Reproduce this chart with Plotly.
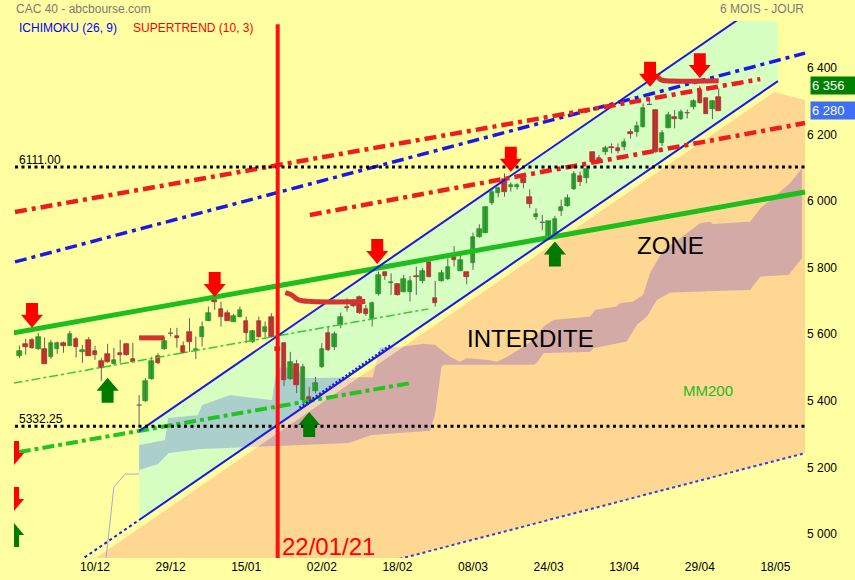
import plotly.graph_objects as go
import numpy as np

# ---------------- data ----------------
day_index = list(range(-12, 100))
opens = [5544, 5580, 5592, 5565, 5565, 5541, 5565, 5583, 5575, 5595, 5555, 5592,
         5559, 5529, 5550, 5520, 5554, 5580, 5535, 5396, 5408, 5474, 5544, 5564,
         5612, 5604, 5574, 5615, 5560, 5600, 5650, 5712, 5685, 5674, 5647, 5662,
         5649, 5585, 5649, 5615, 5662, 5571, 5582, 5474, 5519, 5411, 5421, 5439,
         5510, 5612, 5570, 5637, 5692, 5710, 5722, 5684, 5654, 5730, 5797, 5762,
         5760, 5737, 5737, 5784, 5770, 5825, 5719, 5770, 5774, 5840, 5800, 5795,
         5822, 5902, 5914, 6004, 6032, 6074, 6050, 6050, 6077, 6020, 5960, 5945,
         5902, 5902, 5979, 5994, 6044, 6085, 6079, 6157, 6139, 6155, 6172, 6167,
         6172, 6217, 6217, 6232, 6299, 6282, 6182, 6229, 6260, 6255, 6274, 6292,
         6342, 6317, 6285, 6320]
highs = [5575, 5595, 5598, 5613, 5599, 5592, 5587, 5587, 5619, 5601, 5577, 5601,
         5574, 5538, 5580, 5568, 5592, 5582, 5583, 5426, 5477, 5541, 5552, 5601,
         5628, 5628, 5587, 5657, 5602, 5647, 5692, 5712, 5707, 5682, 5670, 5692,
         5662, 5622, 5662, 5647, 5672, 5590, 5585, 5556, 5532, 5520, 5451, 5481,
         5582, 5632, 5617, 5674, 5717, 5715, 5725, 5697, 5707, 5797, 5797, 5792,
         5762, 5787, 5784, 5812, 5807, 5827, 5769, 5802, 5837, 5874, 5847, 5797,
         5914, 5939, 5994, 6047, 6052, 6092, 6065, 6062, 6082, 6044, 5987, 5967,
         5949, 5964, 6013, 6029, 6099, 6097, 6114, 6158, 6147, 6175, 6182, 6182,
         6197, 6224, 6247, 6302, 6312, 6284, 6222, 6277, 6282, 6284, 6284, 6314,
         6354, 6317, 6312, 6347]
lows = [5537, 5547, 5565, 5562, 5520, 5535, 5550, 5553, 5575, 5539, 5523, 5544,
        5532, 5469, 5523, 5517, 5523, 5545, 5523, 5332, 5405, 5472, 5519, 5562,
        5602, 5568, 5551, 5556, 5534, 5572, 5648, 5682, 5632, 5649, 5645, 5660,
        5582, 5583, 5599, 5597, 5599, 5545, 5453, 5472, 5432, 5402, 5407, 5431,
        5508, 5558, 5562, 5627, 5677, 5690, 5670, 5664, 5632, 5725, 5772, 5727,
        5725, 5735, 5707, 5727, 5762, 5780, 5692, 5767, 5772, 5812, 5798, 5759,
        5802, 5899, 5912, 5997, 6020, 6022, 6037, 6043, 6047, 5987, 5952, 5922,
        5892, 5900, 5964, 5992, 6042, 6054, 6062, 6126, 6122, 6147, 6152, 6152,
        6162, 6197, 6202, 6230, 6299, 6154, 6174, 6227, 6227, 6252, 6257, 6284,
        6302, 6270, 6255, 6280]
closes = [5559, 5572, 5568, 5601, 5520, 5583, 5583, 5575, 5610, 5572, 5562, 5544,
          5547, 5508, 5526, 5532, 5547, 5547, 5526, 5396, 5469, 5529, 5522, 5589,
          5612, 5599, 5552, 5587, 5565, 5632, 5672, 5707, 5662, 5650, 5664, 5682,
          5612, 5619, 5600, 5632, 5600, 5560, 5472, 5526, 5457, 5510, 5411, 5462,
          5565, 5562, 5610, 5662, 5687, 5694, 5672, 5669, 5704, 5787, 5785, 5766,
          5727, 5774, 5770, 5780, 5800, 5782, 5704, 5792, 5812, 5832, 5832, 5782,
          5902, 5924, 5990, 6037, 6047, 6035, 6057, 6057, 6062, 5999, 5970, 5945,
          5949, 5955, 5992, 6019, 6090, 6067, 6104, 6127, 6132, 6169, 6167, 6160,
          6187, 6209, 6234, 6287, 6299, 6157, 6214, 6267, 6255, 6277, 6274, 6309,
          6302, 6270, 6309, 6280]

tick_index = [0, 12, 24, 36, 48, 60, 72, 84, 96, 108]
tick_labels = ["10/12", "29/12", "15/01", "02/02", "18/02", "08/03", "24/03",
               "13/04", "29/04", "18/05"]
price_ticks = [5000, 5200, 5400, 5600, 5800, 6000, 6200, 6400]
price_tick_labels = ["5 000", "5 200", "5 400", "5 600", "5 800", "6 000",
                     "6 200", "6 400"]

# trend / channel lines, each as ([index, index], [value, value])
mm_trend = ([-12.9, 112.7], [5613, 6036])
green_thin = ([-12.9, 52.9], [5462, 5685])
green_dashdot = ([-12.1, 50.0], [5255, 5462])
blue_dashdot = ([-12.7, 112.7], [5826, 6453])
red_dashdot_up = ([-12.7, 105.6], [5976, 6375])
red_dashdot_mid = ([34.1, 112.7], [5967, 6243])
chan_lower = ([7.0, 108.4], [5051, 6369])
chan_upper = ([7.0, 108.4], [5318, 6636])
chan_lower_ext = ([-4.0, 7.0], [4908, 5051])
wide_lower = ([40.0, 112.7], [4893, 5252])
zone_edge = ([-1.0, 107.8], [4922, 6336])
zone_right = ([112.7], [6312])
levels = [6111.00, 5332.25]
level_labels = ["6111.00", "5332.25"]
event_day = 29
event_label = "22/01/21"

# ichimoku cloud boundaries
cloud_top_idx = [7.0, 11.1, 11.6, 16.3, 17.0, 21.4, 28.1, 28.6, 29.0, 32.2, 32.9,
                 44.1, 45.2, 48.9, 52.1, 54.0, 55.3, 56.4, 57.9, 59.0,
                 62.2, 63.8, 65.4, 68.5, 70.1, 71.2, 72.8,
                 78.6, 79.4, 82.8, 83.3, 85.4, 87.0, 88.1,
                 90.2, 92.9, 96.0, 97.6, 98.1,
                 104.0, 105.6, 106.6, 110.3, 112.2]
cloud_top = [5276, 5291, 5357, 5366, 5396, 5426, 5411, 5477, 5510, 5507, 5477,
             5480, 5568, 5572, 5580, 5577, 5557, 5541, 5526, 5537,
             5532, 5526, 5541, 5577, 5602, 5632, 5652,
             5662, 5682, 5692, 5702, 5707, 5727, 5792,
             5862, 5897, 5942, 5947, 5940,
             5947, 5987, 6002, 6062, 6107]
cloud_bot_idx = [7.0, 10.0, 11.7, 16.7, 40.3, 43.8, 53.2, 54.0, 55.0, 55.3, 69.6,
                 70.1, 71.2, 72.8, 78.6, 79.1, 84.4, 86.0, 87.6, 89.2, 91.3,
                 104.0, 105.6, 110.1, 112.2]
cloud_bot = [5201, 5219, 5252, 5264, 5282, 5306, 5319, 5371, 5511, 5517, 5517,
             5522, 5552, 5553, 5556, 5567, 5587, 5637, 5662, 5712, 5734,
             5742, 5782, 5787, 5837]
span_idx = [1.75, 3.0, 4.8, 7.0]
span_val = [4937, 5150, 5189, 5189]
# dark span edge running along the lower channel line
span_edge_idx = [32.5, 47.0]

# supertrend segments
st1 = ([7.0, 11.0], [5598, 5598])
st2 = ([30.2, 31.2, 32.3, 34.4, 42.9], [5734, 5727, 5712, 5707, 5707])
st3 = ([89.3, 89.8, 90.6, 99.0], [6382, 6373, 6370, 6370])

# signal arrows (tip position)
sell_idx = [-10.0, 19.0, 44.8, 66.0, 88.1, 96.0, -13.0, -13.0]
sell_val = [5628, 5721, 5820, 6097, 6352, 6378, 5213, 5075]
buy_idx = [2.0, 34.0, 73.0, -13.0]
buy_val = [5478, 5375, 5887, 5045]

last_high = 6356
last_close = 6280

# ---------------- style ----------------
BG = "#FFFFA2"
ORANGE = "#FED892"
CHAN = "#D8FFC2"
CLOUD_ON_ORANGE = "#D4AAA6"
CLOUD_ON_CHAN = "#ABCFCB"
CLOUD_ON_BG = "#EFD7B8"
FONT = "Liberation Sans, Arial, sans-serif"

XR = [-12.857, 112.857]
YR = [4936.9, 6549.5]
ML, MR, MT, MB = 14, 49, 21, 22
PW, PH = 855 - ML - MR, 580 - MT - MB


def px2paper(px, py):
    return (px - ML) / PW, (580 - MB - py) / PH


def line_at(line, x):
    (x0, x1), (y0, y1) = line
    return y0 + (y1 - y0) * (np.asarray(x, dtype=float) - x0) / (x1 - x0)


def poly_path(xs, ys):
    return "M " + " L ".join(f"{a:.3f},{b:.2f}" for a, b in zip(xs, ys)) + " Z"


fig = go.Figure()
shapes = []

# forbidden zone (orange)
zx = [zone_edge[0][0], zone_edge[0][1], zone_right[0][0], wide_lower[0][1],
      wide_lower[0][0], zone_edge[0][0]]
zy = [zone_edge[1][0], zone_edge[1][1], zone_right[1][0], wide_lower[1][1],
      wide_lower[1][0], 4880]
shapes.append(dict(type="path", path=poly_path(zx, zy), fillcolor=ORANGE,
                   line=dict(width=0), layer="below", xref="x", yref="y"))

# channel fill
cx = [chan_lower[0][0], chan_upper[0][0], chan_upper[0][1], chan_lower[0][1]]
cy = [chan_lower[1][0], chan_upper[1][0], chan_upper[1][1], chan_lower[1][1]]
shapes.append(dict(type="path", path=poly_path(cx, cy), fillcolor=CHAN,
                   line=dict(width=0), layer="below", xref="x", yref="y"))

# cloud split by background region
grid = np.round(np.arange(7.0, 112.25, 0.05), 3)
top = np.interp(grid, cloud_top_idx, cloud_top)
bot = np.interp(grid, cloud_bot_idx, cloud_bot)
lo_line = line_at(chan_lower, grid)
zo_line = line_at(zone_edge, grid)
parts = [
    (np.maximum(top, lo_line), np.maximum(bot, lo_line), CLOUD_ON_CHAN),
    (np.clip(top, zo_line, lo_line), np.clip(bot, zo_line, lo_line), CLOUD_ON_BG),
    (np.minimum(top, zo_line), np.minimum(bot, zo_line), CLOUD_ON_ORANGE),
]
for hi, lo, col in parts:
    xs = list(grid) + list(grid[::-1])
    ys = list(hi) + list(lo[::-1])
    shapes.append(dict(type="path", path=poly_path(xs, ys), fillcolor=col,
                       line=dict(width=0), layer="below", xref="x", yref="y"))


def add_line(line, color, width, dash="solid", shape="linear"):
    fig.add_trace(go.Scatter(x=line[0], y=line[1], mode="lines",
                             line=dict(color=color, width=width, dash=dash, shape=shape),
                             hoverinfo="skip"))


add_line((span_idx, span_val), "#A8A8D8", 1)

# candles: wicks
wx, wy = [], []
for i, h, l in zip(day_index, highs, lows):
    wx += [i, i, None]
    wy += [l, h, None]
fig.add_trace(go.Scatter(x=wx, y=wy, mode="lines", line=dict(color="#606060", width=1),
                         hoverinfo="skip"))
# bodies
bx, bh, bb, bc, be = [], [], [], [], []
dx, dy = [], []
for i, o, c in zip(day_index, opens, closes):
    if o == c:
        dx += [i - 0.4, i + 0.4, None]
        dy += [o, o, None]
        continue
    bx.append(i)
    bb.append(min(o, c))
    bh.append(abs(c - o))
    bc.append("#1FB01F" if c > o else "#DE2222")
    be.append("#128A12" if c > o else "#A81818")
fig.add_trace(go.Bar(x=bx, y=bh, base=bb, width=0.72,
                     marker=dict(color=bc, line=dict(color=be, width=0.6)),
                     hoverinfo="skip"))
fig.add_trace(go.Scatter(x=dx, y=dy, mode="lines", line=dict(color="#606060", width=1.2),
                         hoverinfo="skip"))

# lines
add_line(green_thin, "#33CC33", 1.5, "dashdot")
add_line(green_dashdot, "#22C422", 4, "dashdot")
add_line(mm_trend, "#1EBE1E", 5)
add_line(chan_lower_ext, "#1A1AE8", 2, "dot")
add_line(chan_lower, "#1A1AE8", 2)
add_line(chan_upper, "#1A1AE8", 2)
add_line((span_edge_idx, list(line_at(chan_lower, span_edge_idx) + 4)), "#1A1AE8", 3.5,
         "2px,2px")
add_line(wide_lower, "#3A3AE8", 2, "dot")
add_line(blue_dashdot, "#1A1AE8", 3.5, "12px,5px,4px,5px")
add_line(red_dashdot_up, "#EE1C1C", 4.5, "12px,5px,4px,5px")
add_line(red_dashdot_mid, "#EE1C1C", 4.5, "12px,5px,4px,5px")
for lv in levels:
    add_line(([-12.7, 112.7], [lv, lv]), "#000000", 3, "3px,3.5px")

# supertrend
for seg in (st1, st2, st3):
    add_line(seg, "#D53232", 5, shape="spline")

# event line
fig.add_trace(go.Scatter(x=[event_day, event_day], y=[YR[0] - 50, 6540], mode="lines",
                         line=dict(color="#FF1010", width=4), hoverinfo="skip"))

# arrows
AW, SW = 1.75, 0.95
TH, SH = 39, 36
for xi, yi in zip(sell_idx, sell_val):
    xs = [xi, xi + AW, xi + SW, xi + SW, xi - SW, xi - SW, xi - AW, xi]
    ys = [yi, yi + TH, yi + TH, yi + TH + SH, yi + TH + SH, yi + TH, yi + TH, yi]
    fig.add_trace(go.Scatter(x=xs, y=ys, fill="toself", fillcolor="#FF0000", mode="lines",
                             line=dict(width=0, color="#FF0000"), hoverinfo="skip"))
for xi, yi in zip(buy_idx, buy_val):
    xs = [xi, xi + AW, xi + SW, xi + SW, xi - SW, xi - SW, xi - AW, xi]
    ys = [yi, yi - TH, yi - TH, yi - TH - SH, yi - TH - SH, yi - TH, yi - TH, yi]
    fig.add_trace(go.Scatter(x=xs, y=ys, fill="toself", fillcolor="#007A00", mode="lines",
                             line=dict(width=0, color="#007A00"), hoverinfo="skip"))

# ---------------- annotations ----------------
ann = []


def paper_text(px, py, text, color, size, anchor="left"):
    x, y = px2paper(px, py)
    ann.append(dict(x=x, y=y, xref="paper", yref="paper", text=text, showarrow=False,
                    xanchor=anchor, yanchor="middle",
                    font=dict(family=FONT, size=size, color=color)))


paper_text(14, 9, "CAC 40 - abcbourse.com", "#7A7A7A", 12)
paper_text(806, 9, "6 MOIS - JOUR", "#7A7A7A", 12, "right")
paper_text(17, 28, "ICHIMOKU (26, 9)", "#0000FF", 12)
paper_text(131, 28, "SUPERTREND (10, 3)", "#FF0000", 12)
paper_text(17, 160, level_labels[0], "#000000", 12)
paper_text(17, 419, level_labels[1], "#000000", 12)
paper_text(280, 546, event_label, "#FF0000", 24)
paper_text(635, 245, "ZONE", "#000000", 24)
paper_text(465, 338, "INTERDITE", "#000000", 24)
paper_text(681, 390, "MM200", "#22BB22", 15)

for val, col in ((last_high, "#008000"), (last_close, "#3F6FF5")):
    ann.append(dict(x=(810 - ML) / PW, y=val, xref="paper", yref="y",
                    text=f"{val // 1000} {val % 1000:03d}", showarrow=False,
                    xanchor="left", yanchor="middle", width=45, height=15,
                    align="left", bgcolor=col, borderpad=1,
                    font=dict(family=FONT, size=13, color="white")))

fig.update_layout(
    width=855, height=580,
    margin=dict(l=ML, r=MR, t=MT, b=MB),
    paper_bgcolor=BG, plot_bgcolor=BG,
    showlegend=False, bargap=0,
    shapes=shapes, annotations=ann,
    xaxis=dict(range=XR, tickvals=tick_index, ticktext=tick_labels, showgrid=False,
               zeroline=False, showline=False, ticks="", automargin=False,
               tickfont=dict(family=FONT, size=12, color="black")),
    yaxis=dict(range=YR, side="right", tickvals=price_ticks, ticktext=price_tick_labels,
               showgrid=False, zeroline=False, showline=False, ticks="",
               automargin=False, ticklabelshift=-3,
               tickfont=dict(family=FONT, size=12, color="black")),
)

fig.write_html("out.html", config={"displayModeBar": False},
               post_script="document.body.style.margin='0px';document.body.style.overflow='hidden';")
